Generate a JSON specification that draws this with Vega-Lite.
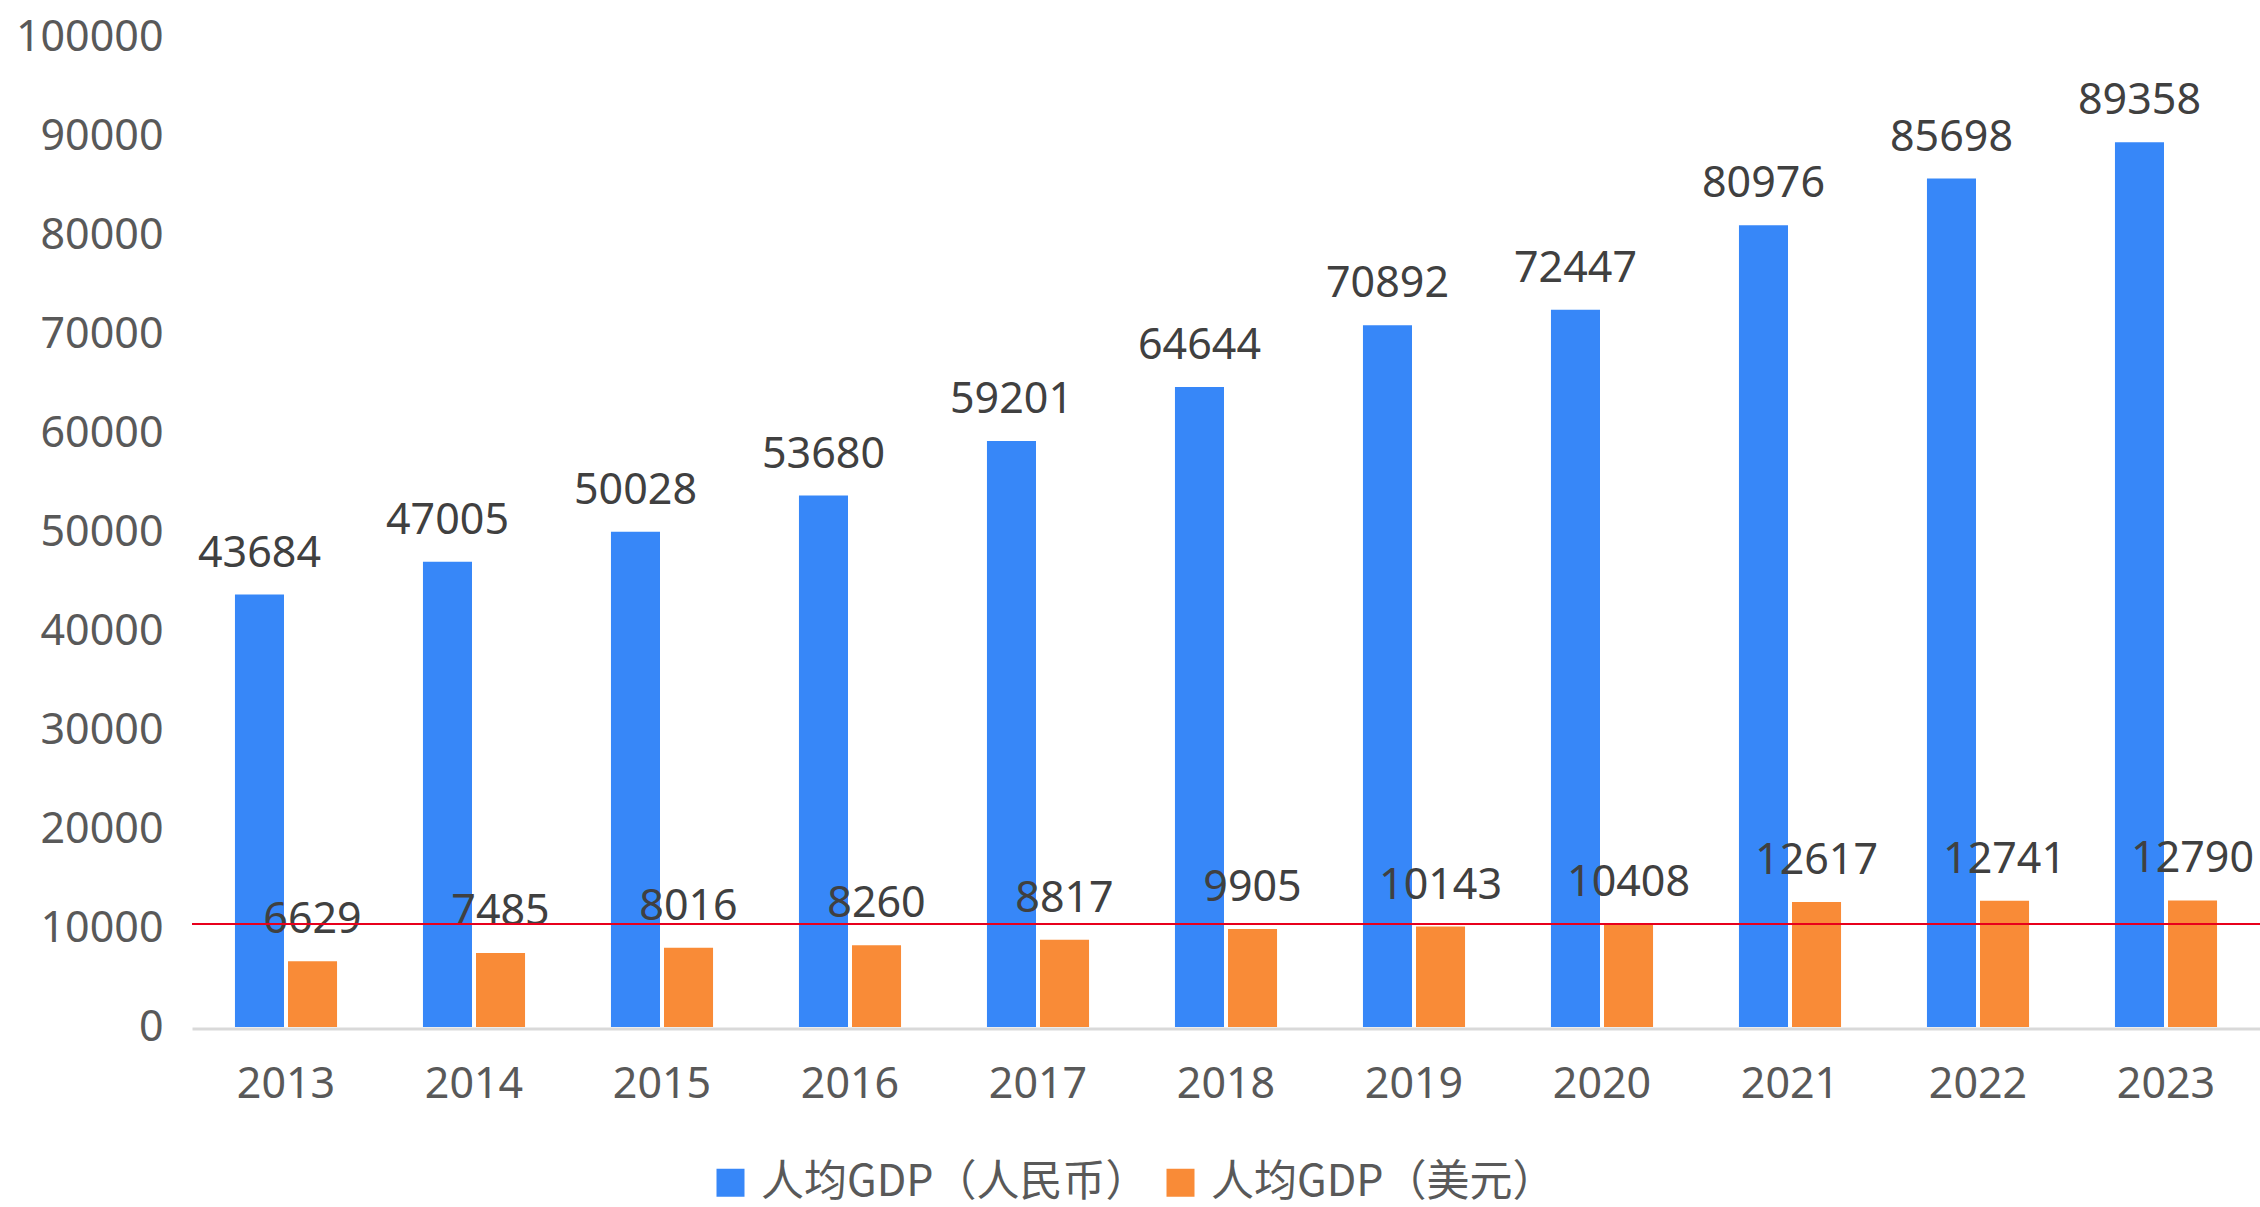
{
  "$schema": "https://vega.github.io/schema/vega-lite/v6.json",
  "width": 2068,
  "height": 990,
  "autosize": {"type": "none"},
  "padding": {"left": 192, "top": 37, "right": 0, "bottom": 180},
  "background": "#ffffff",
  "config": {"view": {"stroke": null}},
  "datasets": {
    "gdp": [
      {"year": "2013", "series": "人均GDP（人民币）", "value": 43684},
      {"year": "2013", "series": "人均GDP（美元）", "value": 6629},
      {"year": "2014", "series": "人均GDP（人民币）", "value": 47005},
      {"year": "2014", "series": "人均GDP（美元）", "value": 7485},
      {"year": "2015", "series": "人均GDP（人民币）", "value": 50028},
      {"year": "2015", "series": "人均GDP（美元）", "value": 8016},
      {"year": "2016", "series": "人均GDP（人民币）", "value": 53680},
      {"year": "2016", "series": "人均GDP（美元）", "value": 8260},
      {"year": "2017", "series": "人均GDP（人民币）", "value": 59201},
      {"year": "2017", "series": "人均GDP（美元）", "value": 8817},
      {"year": "2018", "series": "人均GDP（人民币）", "value": 64644},
      {"year": "2018", "series": "人均GDP（美元）", "value": 9905},
      {"year": "2019", "series": "人均GDP（人民币）", "value": 70892},
      {"year": "2019", "series": "人均GDP（美元）", "value": 10143},
      {"year": "2020", "series": "人均GDP（人民币）", "value": 72447},
      {"year": "2020", "series": "人均GDP（美元）", "value": 10408},
      {"year": "2021", "series": "人均GDP（人民币）", "value": 80976},
      {"year": "2021", "series": "人均GDP（美元）", "value": 12617},
      {"year": "2022", "series": "人均GDP（人民币）", "value": 85698},
      {"year": "2022", "series": "人均GDP（美元）", "value": 12741},
      {"year": "2023", "series": "人均GDP（人民币）", "value": 89358},
      {"year": "2023", "series": "人均GDP（美元）", "value": 12790}
    ],
    "ref": [{"level": 10408}]
  },
  "layer": [
    {
      "data": {"name": "gdp"},
      "mark": {"type": "bar"},
      "encoding": {
        "x": {
          "field": "year", "type": "nominal", "sort": null,
          "scale": {"paddingInner": 0.457, "paddingOuter": 0.2285},
          "axis": {
            "title": null, "labelAngle": 0, "ticks": false, "tickSize": 0,
            "domainColor": "#d9d9d9", "domainWidth": 3, "offset": 1.5,
            "labelFont": "Noto Sans", "labelFontSize": 43, "labelColor": "#595959",
            "labelPadding": 35, "grid": false
          }
        },
        "xOffset": {
          "field": "series", "type": "nominal",
          "scale": {"domain": ["人均GDP（人民币）", "人均GDP（美元）"], "paddingInner": 0.0755, "paddingOuter": 0}
        },
        "y": {
          "field": "value", "type": "quantitative",
          "scale": {"domain": [0, 100000], "nice": false},
          "axis": {
            "title": null, "values": [0, 10000, 20000, 30000, 40000, 50000, 60000, 70000, 80000, 90000, 100000],
            "format": "d", "domain": false, "ticks": false, "tickSize": 0, "grid": false,
            "labelFont": "Noto Sans", "labelFontSize": 43, "labelColor": "#595959",
            "labelPadding": 29
          }
        },
        "color": {
          "field": "series", "type": "nominal",
          "scale": {"domain": ["人均GDP（人民币）", "人均GDP（美元）"], "range": ["#3787f8", "#f98b37"]},
          "legend": {
            "title": null, "orient": "none", "direction": "horizontal",
            "legendX": 517, "legendY": 1124, "padding": 0,
            "symbolType": "square", "symbolSize": 784, "symbolStrokeWidth": 0,
            "labelFont": "Noto Sans CJK SC", "labelFontSize": 43, "labelColor": "#595959",
            "labelOffset": 9, "columnPadding": 10, "labelLimit": 1000
          }
        }
      }
    },
    {
      "data": {"name": "gdp"},
      "mark": {"type": "text", "baseline": "alphabetic", "align": "center", "dy": -28, "font": "Noto Sans", "fontSize": 43, "color": "#404040"},
      "encoding": {
        "x": {"field": "year", "type": "nominal", "sort": null},
        "xOffset": {"field": "series", "type": "nominal"},
        "y": {"field": "value", "type": "quantitative"},
        "text": {"field": "value", "type": "quantitative", "format": "d"}
      }
    },
    {
      "data": {"name": "ref"},
      "mark": {"type": "rule", "color": "#e8001c", "strokeWidth": 2},
      "encoding": {
        "y": {"field": "level", "type": "quantitative"}
      }
    }
  ]
}
